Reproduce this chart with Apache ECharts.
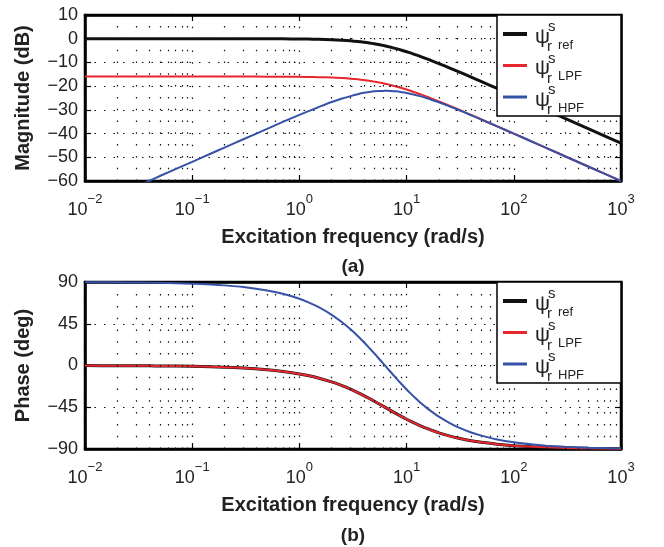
<!DOCTYPE html>
<html><head><meta charset="utf-8">
<script src="https://cdn.jsdelivr.net/npm/echarts@6/dist/echarts.min.js"></script>
<style>html,body{margin:0;padding:0;background:#fff}#c{width:664px;height:547px}</style>
</head><body><div id="c"></div>
<script>
// ---- data ----
const freq = [0.01,0.02,0.03,0.04,0.05,0.1,0.15,0.2,0.3,0.5,0.7,1,1.2,1.5,2,2.5,3,3.5,4,4.5,5,5.5,6,6.5,7,8,9,10,11,12,13,15,17,20,25,30,40,50,70,100,150,200,300,500,700,1000];
const magRef = [0,0,0,0,0,0,0,0,-0.01,-0.03,-0.05,-0.11,-0.16,-0.24,-0.42,-0.64,-0.89,-1.18,-1.48,-1.80,-2.13,-2.47,-2.82,-3.16,-3.51,-4.19,-4.85,-5.48,-6.09,-6.68,-7.23,-8.27,-9.21,-10.47,-12.27,-13.77,-16.19,-18.09,-20.98,-24.06,-27.57,-30.06,-33.59,-38.02,-40.95,-44.04];
const magLPF = [-15.96,-15.96,-15.96,-15.96,-15.96,-15.96,-15.96,-15.96,-15.97,-15.99,-16.01,-16.07,-16.12,-16.2,-16.38,-16.6,-16.85,-17.14,-17.44,-17.76,-18.09,-18.43,-18.78,-19.12,-19.47,-20.15,-20.81,-21.44,-22.05,-22.64,-23.19,-24.23,-25.17,-26.43,-28.23,-29.73,-32.15,-34.05,-36.94,-40.02,-43.53,-46.02,-49.55,-53.98,-56.91,-60.0];
const magHPF = [-71.9,-65.9,-62.4,-59.9,-57.9,-51.9,-48.4,-45.9,-42.4,-38.0,-35.1,-32.1,-30.65,-28.9,-26.7,-25.24,-24.2,-23.39,-22.8,-22.46,-22.2,-22.06,-22.0,-21.98,-22.0,-22.2,-22.54,-22.9,-23.28,-23.7,-24.1,-24.9,-25.72,-26.8,-28.49,-29.9,-32.26,-34.1,-36.98,-40.0,-43.54,-46.0,-49.55,-54.0,-56.92,-60.0];
const phRef = [-0.09,-0.18,-0.27,-0.36,-0.46,-0.91,-1.37,-1.82,-2.74,-4.55,-6.36,-9.05,-10.82,-13.44,-17.67,-21.71,-25.53,-29.13,-32.5,-35.62,-38.5,-41.21,-43.7,-45.99,-48.1,-51.9,-55.1,-57.9,-60.28,-62.4,-64.21,-67.3,-69.73,-72.6,-75.9,-78.2,-81.08,-82.8,-84.87,-86.4,-87.6,-88.2,-88.8,-89.3,-89.49,-89.6];
const phLPF = [-0.09,-0.18,-0.27,-0.36,-0.46,-0.91,-1.37,-1.82,-2.74,-4.55,-6.36,-9.05,-10.82,-13.44,-17.67,-21.71,-25.53,-29.13,-32.5,-35.62,-38.5,-41.21,-43.7,-45.99,-48.1,-51.9,-55.1,-57.9,-60.28,-62.4,-64.21,-67.3,-69.73,-72.6,-75.9,-78.2,-81.08,-82.8,-84.87,-86.4,-87.6,-88.2,-88.8,-89.3,-89.49,-89.6];
const phHPF = [89.82,89.64,89.46,89.28,89.08,88.18,87.26,86.36,84.52,80.9,77.28,71.9,68.36,63.12,54.66,46.58,38.94,31.74,25.0,18.76,13.0,7.58,2.6,-1.98,-6.2,-13.8,-20.2,-25.8,-30.56,-34.8,-38.42,-44.6,-49.46,-55.2,-61.8,-66.4,-72.16,-75.6,-79.75,-82.8,-85.2,-86.4,-87.6,-88.6,-88.97,-89.2];
const seriesNames = ['ref','LPF','HPF'];
const magTicks = {min:-60, max:10, step:10};
const phTicks = {min:-90, max:90, step:45};
const xRange = {min:0.01, max:1000};
const minorGrid = [2,3,4,5,6,7,8,9];
const xTitle = 'Excitation frequency (rad/s)';
const yTitles = ['Magnitude (dB)', 'Phase (deg)'];
const captions = ['(a)', '(b)'];

// ---- styling ----
const FONT = '"Liberation Sans", Arial, Helvetica, sans-serif';
const colors = ['#111111', '#e8262d', '#3552a6'];
const widths = [3, 2, 2];
const minus = s => String(s).replace(/-/g, '\u2212');

const minorVals = [];
for (let d = -2; d < 3; d++) minorGrid.forEach(m => minorVals.push(+(m * Math.pow(10, d)).toPrecision(3)));

const chart = echarts.init(document.getElementById('c'), null, {renderer: 'canvas'});

const grids = [
  {left: 85, top: 15, width: 536, height: 166},
  {left: 85, top: 282, width: 536, height: 167}
];

const dotted = {color: '#111', width: 1.2, type: [1.5, 8]};
const dottedV = {color: '#111', width: 1.2, type: [1.5, 10.3]};
const frame = {show: true, onZero: false, lineStyle: {color: '#000', width: 2.5}};
const ticks = {show: true, inside: true, length: 6, lineStyle: {color: '#000', width: 1.2}};

function xAxes(gi) {
  return [{
    type: 'log', logBase: 10, gridIndex: gi, min: xRange.min, max: xRange.max, interval: 1,
    position: 'bottom', axisLine: frame, axisTick: ticks,
    splitLine: {show: true, lineStyle: dottedV},
    axisLabel: {
      margin: 12,
      formatter: v => '{b|10}{e|' + minus(Math.round(Math.log10(v))) + '}',
      rich: {
        b: {fontSize: 18, fontFamily: FONT, color: '#222', lineHeight: 26, verticalAlign: 'bottom'},
        e: {fontSize: 13, fontFamily: FONT, color: '#222', verticalAlign: 'top'}
      }
    },
    name: xTitle, nameLocation: 'middle', nameGap: 46,
    nameTextStyle: {fontFamily: FONT, fontSize: 20, fontWeight: 'bold', color: '#222'}
  }, {
    type: 'log', logBase: 10, gridIndex: gi, min: xRange.min, max: xRange.max, interval: 1,
    position: 'top', axisLine: frame, axisTick: ticks,
    splitLine: {show: false}, axisLabel: {show: false}
  }];
}
function yAxes(gi, t, name) {
  return [{
    type: 'value', gridIndex: gi, min: t.min, max: t.max, interval: t.step, position: 'left',
    axisLine: frame, axisTick: ticks,
    splitLine: {show: true, lineStyle: dotted},
    axisLabel: {margin: 7, fontSize: 18, fontFamily: FONT, color: '#222', formatter: v => minus(v)},
    name: name, nameLocation: 'middle', nameGap: 52,
    nameTextStyle: {fontFamily: FONT, fontSize: 20, fontWeight: 'bold', color: '#222'}
  }, {
    type: 'value', gridIndex: gi, min: t.min, max: t.max, interval: t.step, position: 'right',
    axisLine: frame, axisTick: ticks,
    splitLine: {show: false}, axisLabel: {show: false}
  }];
}

const xAxis = [...xAxes(0), ...xAxes(1)];
const yAxis = [...yAxes(0, magTicks, yTitles[0]), ...yAxes(1, phTicks, yTitles[1])];

const magData = [magRef, magLPF, magHPF];
const phData = [phRef, phLPF, phHPF];

const series = [];
[0, 1].forEach(gi => {
  series.push({
    type: 'line', xAxisIndex: gi * 2, yAxisIndex: gi * 2, data: [], silent: true,
    markLine: {silent: true, symbol: 'none', label: {show: false}, animation: false,
      lineStyle: dottedV, data: minorVals.map(v => ({xAxis: v}))}
  });
  const src = gi === 0 ? magData : phData;
  src.forEach((arr, i) => {
    series.push({
      type: 'line', name: seriesNames[i], xAxisIndex: gi * 2, yAxisIndex: gi * 2,
      data: freq.map((f, k) => [f, arr[k]]),
      showSymbol: false, smooth: 0.2, clip: true,
      lineStyle: {color: colors[i], width: widths[i]}, itemStyle: {color: colors[i]},
      animation: false, z: 3 + i
    });
  });
});

function legendGroup(top) {
  const Z = 100;
  const els = [{type: 'rect', z: Z, shape: {x: 497, y: top, width: 124, height: 101},
    style: {fill: '#fff', stroke: '#000', lineWidth: 1.5}}];
  seriesNames.forEach((n, i) => {
    const ly = top + 19 + i * 31.5;
    els.push({type: 'line', z: Z + 1, shape: {x1: 503, y1: ly, x2: 527, y2: ly},
      style: {stroke: colors[i], lineWidth: i === 0 ? 4 : 3}});
    els.push({type: 'text', z: Z + 1, x: 535, y: ly + 3, style: {text: '\u03c8', font: '21px ' + FONT, fill: '#222', verticalAlign: 'middle'}});
    els.push({type: 'text', z: Z + 1, x: 548, y: ly - 7, style: {text: 's', font: '15px ' + FONT, fill: '#222', verticalAlign: 'middle'}});
    els.push({type: 'text', z: Z + 1, x: 547, y: ly + 13, style: {text: 'r', font: '15px ' + FONT, fill: '#222', verticalAlign: 'middle'}});
    els.push({type: 'text', z: Z + 1, x: 558, y: ly + 11, style: {text: n, font: '13px ' + FONT, fill: '#222', verticalAlign: 'middle'}});
  });
  return {type: 'group', z: Z, children: els};
}

chart.setOption({
  animation: false,
  backgroundColor: '#fff',
  grid: grids.map(g => Object.assign({show: true, borderColor: '#000', borderWidth: 2.5, backgroundColor: 'transparent'}, g)),
  xAxis, yAxis, series,
  graphic: [
    legendGroup(15), legendGroup(282),
    {type: 'text', x: 353, y: 267, style: {text: captions[0], font: 'bold 19px ' + FONT, fill: '#222', align: 'center', verticalAlign: 'middle'}},
    {type: 'text', x: 353, y: 536, style: {text: captions[1], font: 'bold 19px ' + FONT, fill: '#222', align: 'center', verticalAlign: 'middle'}}
  ]
});
</script></body></html>
